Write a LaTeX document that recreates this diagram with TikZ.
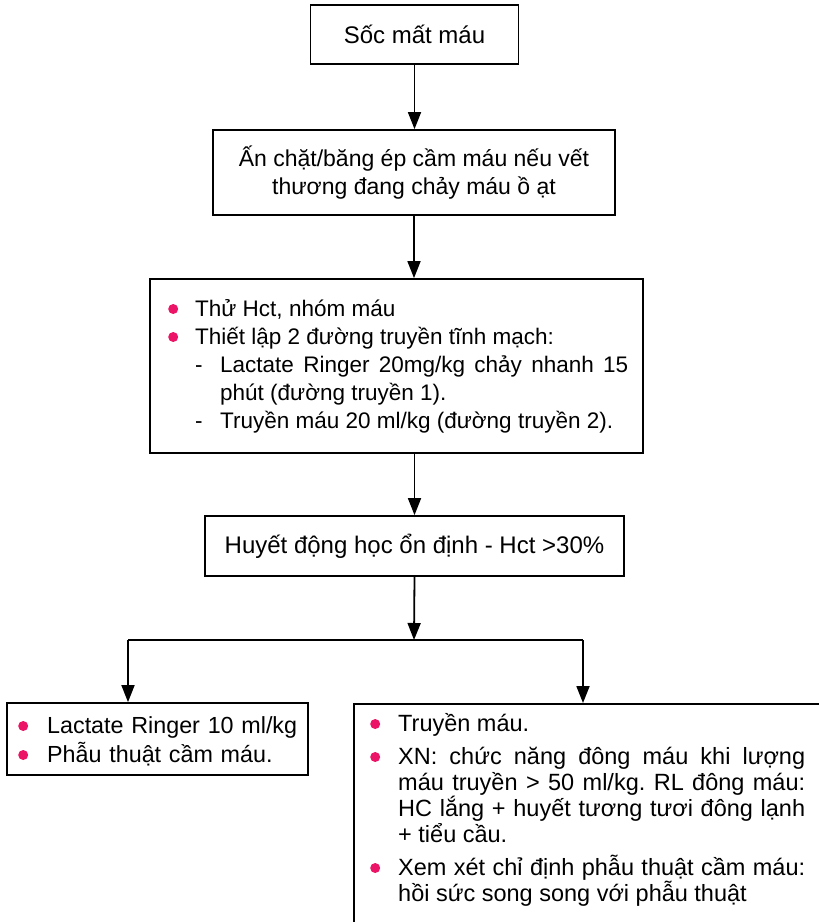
\documentclass[tikz,border=0pt]{standalone}
\usepackage{fontspec}
\setmainfont{Liberation Sans}
\usetikzlibrary{arrows.meta}
\definecolor{bul}{RGB}{236,20,102}
\newcommand\bigsize{\fontsize{24}{28}\selectfont}
\newcommand\pinkdot{\tikz[baseline=0pt,x=1pt,y=1pt]\fill[bul](0,7) circle[radius=5];}
% a bullet hung in the left margin of a list paragraph
\newcommand\bul[1]{\noindent\llap{\pinkdot\hspace{#1}}}
\newcommand\dashitem{\par\hangindent=25pt\noindent\makebox[25pt][l]{-}}
\tikzset{
  box/.style={draw, line width=1.8pt, inner sep=0pt, font=\bigsize, align=center},
  txt/.style={inner sep=0pt, anchor=base west, align=justify},
  arr/.style={line width=1.8pt, -{Triangle[length=17pt,width=13pt]}},
  ln/.style={line width=1.8pt}
}
\begin{document}
\begin{tikzpicture}[x=1pt,y=-1pt]
\useasboundingbox (0,0) rectangle (819,922);
\clip (0,0) rectangle (819,922);
\hyphenpenalty=10000 \exhyphenpenalty=10000 \frenchspacing

% boxes of the main chain
\node[box, minimum width=208pt, minimum height=59pt] (b1) at (414.5,34.5) {Sốc mất máu};
\node[box, minimum width=402pt, minimum height=85pt, font=\fontsize{23}{28}\selectfont] (b2) at (414,172.5)
  {Ấn chặt/băng ép cầm máu nếu vết\\thương đang chảy máu ồ ạt};
\node[box, minimum width=493pt, minimum height=174pt] (b3) at (396.5,366) {};
\node[box, minimum width=419pt, minimum height=60pt] (b4) at (414.5,546)
  {Huyết động học ổn định - Hct >30\%};
\node[box, minimum width=301pt, minimum height=72pt] (b5) at (157.5,739) {};
\node[box, minimum width=520pt, minimum height=300pt, anchor=north west] (b6) at (353,703) {};

% contents of the list boxes
\node[txt, text width=433pt, font=\fontsize{22.5}{28}\selectfont] (t3) at (195,316) {%
  \bul{17pt}Thử Hct, nhóm máu\par
  \bul{17pt}Thiết lập 2 đường truyền tĩnh mạch:
  \dashitem Lactate Ringer 20mg/kg chảy nhanh 15 phút (đường truyền 1).
  \dashitem Truyền máu 20 ml/kg (đường truyền 2).};

\node[txt, text width=262pt, align=left, font=\fontsize{23.3}{29}\selectfont] (t5) at (47,733) {%
  \bul{19pt}Lactate Ringer 10 ml/kg\par
  \bul{19pt}Phẫu thuật cầm máu.};

\node[txt, text width=407pt, font=\fontsize{23.5}{26}\selectfont] (t6) at (398,731) {%
  \parskip=7pt\bul{18pt}Truyền máu.\par
  \bul{18pt}XN: chức năng đông máu khi lượng\linebreak
  máu truyền > 50 ml/kg. RL đông máu:\linebreak
  HC lắng + huyết tương tươi đông lạnh\linebreak
  + tiểu cầu.\par
  \bul{18pt}Xem xét chỉ định phẫu thuật cầm máu:\linebreak
  hồi sức song song với phẫu thuật};

% connectors
\coordinate (j) at (414,640);
\coordinate (jl) at (128,640);
\coordinate (jr) at (583,640);
\draw[arr] (b1.south) -- (b1.south |- b2.north);
\draw[arr] (b2.south) -- (b2.south |- b3.north);
\draw[arr] (b4.north |- b3.south) -- (b4.north);
\draw[arr] (b4.south) -- (j);
\draw[ln] (jl) -- (jr);
\draw[arr] (jl) -- (jl |- b5.north);
\draw[arr] (jr) -- (jr |- b6.north);
\end{tikzpicture}
\end{document}
